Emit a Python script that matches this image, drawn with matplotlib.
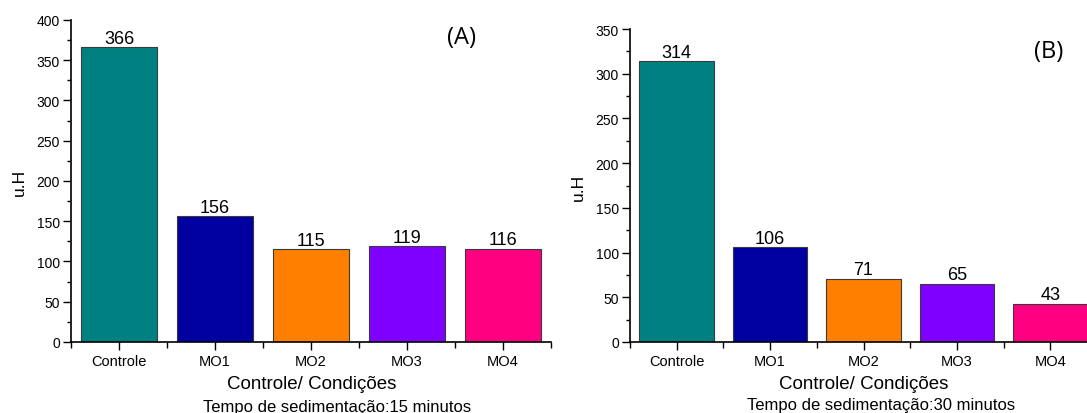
import matplotlib
matplotlib.use("Agg")
import matplotlib.pyplot as plt
from matplotlib.ticker import MultipleLocator, FixedLocator

plt.rcParams["font.family"] = ["Liberation Sans", "DejaVu Sans"]

categories = ["Controle", "MO1", "MO2", "MO3", "MO4"]
values_15 = [366, 156, 115, 119, 116]
values_30 = [314, 106, 71, 65, 43]
colors = ["#008080", "#0000A0", "#FF8000", "#8000FF", "#FF0080"]

fig = plt.figure(figsize=(10.87, 4.14), dpi=100)
axA = fig.add_axes([0.0653, 0.1715, 0.4416, 0.7778])
axB = fig.add_axes([0.5796, 0.1715, 0.4296, 0.7560])


def draw_panel(ax, vals, ymax, ystep):
    x = list(range(len(categories)))
    bars = ax.bar(x, vals, width=0.8, color=colors, edgecolor="#3a3a3a", linewidth=0.8)
    ax.bar_label(bars, padding=0.5, fontsize=13)
    ax.set_xlim(-0.5, 4.5)
    ax.set_ylim(0, ymax)
    ax.yaxis.set_major_locator(MultipleLocator(ystep))
    ax.yaxis.set_minor_locator(MultipleLocator(ystep / 2))
    ax.set_xticks(x)
    ax.set_xticklabels(categories, fontsize=10.5)
    ax.xaxis.set_minor_locator(FixedLocator([i + 0.5 for i in range(-1, 5)]))
    ax.tick_params(axis="y", which="major", length=6, width=1, labelsize=10, pad=2)
    ax.tick_params(axis="y", which="minor", length=3, width=1)
    ax.tick_params(axis="x", which="major", length=6, width=1, pad=3)
    ax.tick_params(axis="x", which="minor", length=4, width=1)
    for s in ["top", "right"]:
        ax.spines[s].set_visible(False)
    for s in ["left", "bottom"]:
        ax.spines[s].set_linewidth(1.2)


draw_panel(axA, values_15, 400, 50)
draw_panel(axB, values_30, 350, 50)

# axis titles and panel tags
fig.text(0.0175, 0.56, "u.H", rotation=90, ha="center", va="center", fontsize=12.5)
fig.text(0.532, 0.548, "u.H", rotation=90, ha="center", va="center", fontsize=12.5)
fig.text(0.287, 0.0715, "Controle/ Condições", ha="center", va="center", fontsize=13.5)
fig.text(0.795, 0.0715, "Controle/ Condições", ha="center", va="center", fontsize=13.5)
fig.text(0.310, 0.0150, "Tempo de sedimentação:15 minutos", ha="center", va="center", fontsize=12)
fig.text(0.811, 0.0200, "Tempo de sedimentação:30 minutos", ha="center", va="center", fontsize=12)
fig.text(0.425, 0.908, "(A)", ha="center", va="center", fontsize=17, family=["Open Sans", "DejaVu Sans"])
fig.text(0.965, 0.874, "(B)", ha="center", va="center", fontsize=17, family=["Open Sans", "DejaVu Sans"])

fig.savefig("out.png", dpi=100)
plt.close(fig)
